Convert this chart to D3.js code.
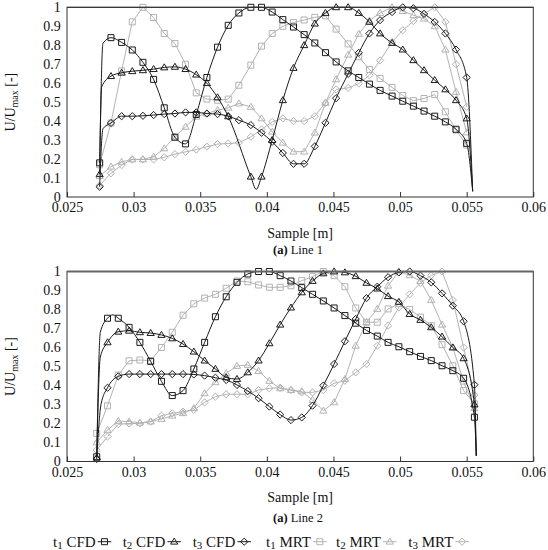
<!DOCTYPE html>
<html><head><meta charset="utf-8">
<script src="https://cdn.jsdelivr.net/npm/d3@7"></script>
<style>
html,body{margin:0;padding:0;background:#fff;}
svg{display:block;}
text{font-family:"Liberation Serif","Times New Roman",serif;fill:#111;}
</style></head>
<body>
<svg id="chart" width="548" height="550"></svg>
<script>
// ---------------- DATA ----------------
const xTickValues = [0.025, 0.03, 0.035, 0.04, 0.045, 0.05, 0.055, 0.06];
const xTickLabels = ["0.025", "0.03", "0.035", "0.04", "0.045", "0.05", "0.055", "0.06"];
const yTickValues = [0, 0.1, 0.2, 0.3, 0.4, 0.5, 0.6, 0.7, 0.8, 0.9, 1];
const yTickLabels = ["0", "0.1", "0.2", "0.3", "0.4", "0.5", "0.6", "0.7", "0.8", "0.9", "1"];
const seriesNames = ["t1 CFD", "t2 CFD", "t3 CFD", "t1 MRT", "t2 MRT", "t3 MRT"];
const panelCaptions = ["Line 1", "Line 2"];

// Line 1 sample positions (m)
const x1 = [0.02745, 0.0283, 0.0291, 0.0299, 0.0307, 0.0315, 0.0323, 0.0331, 0.0339, 0.0347,
  0.0355, 0.0363, 0.0371, 0.0379, 0.0388, 0.0396, 0.0404, 0.0412, 0.0420, 0.0428,
  0.0436, 0.0444, 0.0452, 0.0461, 0.0469, 0.0477, 0.0485, 0.0494, 0.0502, 0.0510,
  0.0518, 0.0526, 0.0534, 0.0542, 0.0550];
const l1_t1CFD = [0.18, 0.84, 0.815, 0.775, 0.71, 0.62, 0.47, 0.315, 0.28, 0.435,
  0.63, 0.79, 0.905, 0.97, 1.0, 1.0, 0.975, 0.935, 0.896, 0.856,
  0.812, 0.761, 0.712, 0.665, 0.63, 0.595, 0.562, 0.532, 0.505, 0.479,
  0.453, 0.426, 0.396, 0.357, 0.283];
const l1_t2CFD = [0.12, 0.637, 0.655, 0.663, 0.668, 0.674, 0.683, 0.686, 0.674, 0.645,
  0.6, 0.525, 0.425, null, 0.107, 0.107, 0.3, 0.51, 0.68, 0.80,
  0.914, 0.97, 1.0, 1.0, 0.97, 0.923, 0.862, 0.812, 0.777, 0.721,
  0.668, 0.616, 0.567, 0.51, 0.414];
const l1_t3CFD = [0.054, 0.39, 0.426, 0.426, 0.428, 0.432, 0.437, 0.44, 0.446, 0.446,
  0.44, 0.437, 0.426, 0.405, 0.379, 0.339, 0.291, 0.232, 0.175, 0.175,
  0.267, 0.391, 0.521, 0.649, 0.76, 0.862, 0.932, 0.975, 1.0, 0.995,
  0.965, 0.923, 0.862, 0.777, 0.63];
const l1_t1MRT = [0.17, 0.39, 0.665, 0.923, 1.0, 0.946, 0.862, 0.809, 0.70, 0.549,
  0.516, 0.51, 0.516, 0.589, 0.695, 0.795, 0.862, 0.9, 0.92, 0.933,
  0.947, 0.955, 0.885, 0.807, 0.739, 0.672, 0.625, 0.578, 0.535, 0.508,
  0.519, 0.54, 0.449, 0.353, 0.274];
const l1_t2MRT = [0.11, 0.16, 0.185, 0.198, 0.198, 0.212, 0.256, 0.318, 0.37, 0.423,
  0.44, 0.458, 0.47, 0.493, 0.475, 0.414, 0.344, 0.286, 0.239, 0.239,
  0.339, 0.496, 0.62, 0.75, 0.86, 0.93, 0.97, 1.0, 0.98, 0.958,
  0.94, 0.9, 0.777, 0.554, 0.34];
const l1_t3MRT = [0.061, 0.125, 0.168, 0.198, 0.198, 0.198, 0.209, 0.226, 0.238, 0.25,
  0.265, 0.279, 0.282, 0.286, 0.317, 0.356, 0.396, 0.414, 0.40, 0.40,
  0.426, 0.496, 0.567, 0.575, 0.598, 0.642, 0.72, 0.817, 0.879, 0.928,
  0.967, 1.0, 0.923, 0.70, 0.475];
// unmarked points of the CFD profiles (steep wall gradients)
const l1_t1CFD_extra = [[0.0277, 0.81], [0.05545, 0.03]];
const l1_t2CFD_extra = [[0.0276, 0.58], [0.0392, 0.04], [0.05545, 0.03]];
const l1_t3CFD_extra = [[0.0277, 0.36], [0.05545, 0.03]];

// Line 2 sample positions (m)
const x2 = [0.02723, 0.02804, 0.02885, 0.02966, 0.03047, 0.03128, 0.03209, 0.0329, 0.03371, 0.03452,
  0.03533, 0.03614, 0.03695, 0.03776, 0.03857, 0.03938, 0.04019, 0.041, 0.04181, 0.04262,
  0.04343, 0.04424, 0.04505, 0.04586, 0.04667, 0.04748, 0.04829, 0.0491, 0.04991, 0.05072,
  0.05153, 0.05234, 0.05315, 0.05396, 0.05477, 0.05558];
const l2_t1CFD = [0.025, 0.754, 0.754, 0.706, 0.627, 0.527, 0.422, 0.347, 0.373, 0.487,
  0.627, 0.762, 0.867, 0.943, 0.987, 1.0, 1.0, 0.978, 0.95, 0.915,
  0.88, 0.845, 0.808, 0.768, 0.728, 0.69, 0.66, 0.627, 0.604, 0.578,
  0.553, 0.531, 0.504, 0.478, 0.438, 0.233];
const l2_t2CFD = [0.02, 0.627, 0.683, 0.688, 0.68, 0.676, 0.666, 0.648, 0.618, 0.578,
  0.531, 0.487, 0.443, 0.434, 0.469, 0.531, 0.622, 0.72, 0.81, 0.89,
  0.95, 0.99, 1.0, 0.995, 0.975, 0.94, 0.91, 0.87, 0.84, 0.776,
  0.745, 0.706, 0.657, 0.60, 0.543, 0.30];
const l2_t3CFD = [0.013, 0.388, 0.448, 0.46, 0.46, 0.46, 0.46, 0.46, 0.46, 0.458,
  0.452, 0.441, 0.429, 0.403, 0.371, 0.333, 0.289, 0.247, 0.218, 0.232,
  0.294, 0.40, 0.513, 0.633, 0.75, 0.86, 0.92, 0.97, 0.995, 1.0,
  0.978, 0.943, 0.885, 0.82, 0.738, 0.404];
const l2_t1MRT = [0.148, 0.293, 0.455, 0.53, 0.534, 0.531, 0.6, 0.68, 0.77, 0.83,
  0.86, 0.88, 0.912, 0.95, 0.946, 0.929, 0.917, 0.917, 0.925, 0.952,
  0.973, 1.0, 0.978, 0.92, 0.808, 0.733, 0.733, 0.803, 0.83, 0.8,
  0.76, 0.715, 0.615, 0.504, 0.373, 0.303];
const l2_t2MRT = [0.1, 0.166, 0.213, 0.21, 0.204, 0.21, 0.224, 0.241, 0.254, 0.28,
  0.359, 0.417, 0.464, 0.503, 0.508, 0.476, 0.424, 0.385, 0.376, 0.369,
  0.324, 0.267, 0.311, 0.434, 0.609, 0.733, 0.803, 0.925, 1.0, 0.98,
  0.95, 0.85, 0.72, 0.6, 0.42, 0.28];
const l2_t3MRT = [0.06, 0.131, 0.196, 0.2, 0.2, 0.21, 0.241, 0.254, 0.262, 0.271,
  0.311, 0.341, 0.354, 0.354, 0.354, 0.376, 0.385, 0.388, 0.376, 0.364,
  0.364, 0.376, 0.412, 0.425, 0.469, 0.513, 0.609, 0.715, 0.811, 0.88,
  0.94, 0.98, 1.0, 0.85, 0.6, 0.35];
const l2_t1CFD_extra = [[0.0275, 0.68], [0.02845, 0.772], [0.05572, 0.03]];
const l2_t2CFD_extra = [[0.0275, 0.55], [0.05572, 0.03]];
const l2_t3CFD_extra = [[0.02755, 0.30], [0.05572, 0.03]];

// ---------------- STYLE / LAYOUT ----------------
const BLACK = "#1a1a1a", GREY = "#b3b3b3";
const styles = [
  {name: seriesNames[0], color: BLACK, marker: "square", cfd: true},
  {name: seriesNames[1], color: BLACK, marker: "triangle", cfd: true},
  {name: seriesNames[2], color: BLACK, marker: "diamond", cfd: true},
  {name: seriesNames[3], color: GREY, marker: "square", cfd: false},
  {name: seriesNames[4], color: GREY, marker: "triangle", cfd: false},
  {name: seriesNames[5], color: GREY, marker: "diamond", cfd: false}
];
const panels = [
  {top: 7.3, bottom: 197, x: x1, caption: panelCaptions[0], captionY: 254, topStroke: 1, topColor: "#333",
   ys: [l1_t1CFD, l1_t2CFD, l1_t3CFD, l1_t1MRT, l1_t2MRT, l1_t3MRT],
   extras: [l1_t1CFD_extra, l1_t2CFD_extra, l1_t3CFD_extra, [], [], []]},
  {top: 271.5, bottom: 461.5, x: x2, caption: panelCaptions[1], captionY: 522, topStroke: 2, topColor: "#666",
   ys: [l2_t1CFD, l2_t2CFD, l2_t3CFD, l2_t1MRT, l2_t2MRT, l2_t3MRT],
   extras: [l2_t1CFD_extra, l2_t2CFD_extra, l2_t3CFD_extra, [], [], []]}
];
const LEFT = 67, RIGHT = 533.3;

function markerPath(type) {
  if (type === "square") return "M-3,-3H3V3H-3Z";
  if (type === "triangle") return "M0,-3.6L3.6,2.4H-3.6Z";
  return "M0,-3.6L3.6,0L0,3.6L-3.6,0Z";
}

const svg = d3.select("#chart");

panels.forEach((p) => {
  const x = d3.scaleLinear().domain([0.025, 0.06]).range([LEFT, RIGHT]);
  const y = d3.scaleLinear().domain([0, 1]).range([p.bottom, p.top]);
  const g = svg.append("g");

  // x axis
  const xa = g.append("g").attr("transform", `translate(0,${p.bottom})`)
    .call(d3.axisBottom(x).tickValues(xTickValues)
      .tickFormat((d, i) => xTickLabels[i])
      .tickSizeInner(-5).tickSizeOuter(0).tickPadding(5.5));
  xa.select(".domain").remove();
  xa.attr("font-family", null);
  xa.selectAll("line").attr("stroke", "#333");
  xa.selectAll("text").style("font-family", '"Liberation Serif",serif').style("font-size", "14px").attr("fill", "#111");

  // y axis
  const ya = g.append("g").attr("transform", `translate(${LEFT},0)`)
    .call(d3.axisLeft(y).tickValues(yTickValues)
      .tickFormat((d, i) => yTickLabels[i])
      .tickSize(0).tickPadding(6.3));
  ya.select(".domain").remove();
  ya.attr("font-family", null);
  ya.selectAll("text").style("font-family", '"Liberation Serif",serif').style("font-size", "14px").attr("fill", "#111");

  // series (grey first, then black on top)
  const order = [3, 4, 5, 0, 1, 2];
  order.forEach((si) => {
    const s = styles[si];
    const pts = p.x.map((xv, i) => ({x: xv, y: p.ys[si][i]}))
      .filter(d => d.y !== null && d.y !== undefined);
    const linePts = pts.concat(p.extras[si].map(e => ({x: e[0], y: e[1]})))
      .sort((a, b) => a.x - b.x);
    const line = d3.line().x(d => x(d.x)).y(d => y(d.y))
      .curve(s.cfd ? d3.curveMonotoneX : d3.curveLinear);
    g.append("path").datum(linePts).attr("d", line)
      .attr("fill", "none").attr("stroke", s.color).attr("stroke-width", 1);
    g.selectAll(null).data(pts).enter().append("path")
      .attr("transform", d => `translate(${x(d.x)},${y(d.y)})`)
      .attr("d", markerPath(s.marker))
      .attr("fill", "none").attr("stroke", s.color).attr("stroke-width", 1);
  });

  // frame
  g.append("rect").attr("x", LEFT).attr("y", p.top)
    .attr("width", RIGHT - LEFT).attr("height", p.bottom - p.top)
    .attr("fill", "none").attr("stroke", "#333").attr("stroke-width", 1);
  g.append("line").attr("x1", LEFT).attr("x2", RIGHT).attr("y1", p.top).attr("y2", p.top)
    .attr("stroke", p.topColor).attr("stroke-width", p.topStroke);

  // axis titles
  g.append("text").attr("x", (LEFT + RIGHT) / 2).attr("y", p.bottom + 40.5)
    .attr("text-anchor", "middle").style("font-size", "14px").text("Sample [m]");
  const yt = g.append("text")
    .attr("transform", `translate(15,${(p.top + p.bottom) / 2}) rotate(-90)`)
    .attr("text-anchor", "middle").style("font-size", "14px");
  yt.append("tspan").text("U/U");
  yt.append("tspan").attr("dy", 3).style("font-size", "10px").text("max");
  yt.append("tspan").attr("dy", -3).text(" [-]");

  // caption
  const cap = g.append("text").attr("x", 298).attr("y", p.captionY)
    .attr("text-anchor", "middle").style("font-size", "12.5px");
  cap.append("tspan").style("font-weight", "bold").text("(a)");
  cap.append("tspan").text(" " + p.caption);
});

// legend
const legendX = [53, 122.7, 192.7, 266, 336, 408.3];
const legY = 546.5;
styles.forEach((s, i) => {
  const parts = s.name.split(" ");
  const t = svg.append("text").attr("x", legendX[i]).attr("y", legY).style("font-size", "15px");
  t.append("tspan").text(parts[0][0]);
  t.append("tspan").attr("dy", 2.5).style("font-size", "11px").text(parts[0].slice(1));
  t.append("tspan").attr("dy", -2.5).text(" " + parts[1]);
  const bb = t.node().getBBox();
  const lx0 = bb.x + bb.width + 2, lx1 = lx0 + 13.5, ly = legY - 4.8;
  svg.append("line").attr("x1", lx0).attr("x2", lx1).attr("y1", ly).attr("y2", ly)
    .attr("stroke", s.color).attr("stroke-width", 1);
  svg.append("path").attr("transform", `translate(${(lx0 + lx1) / 2},${ly})`)
    .attr("d", markerPath(s.marker)).attr("fill", "none").attr("stroke", s.color);
});
</script>
</body></html>
